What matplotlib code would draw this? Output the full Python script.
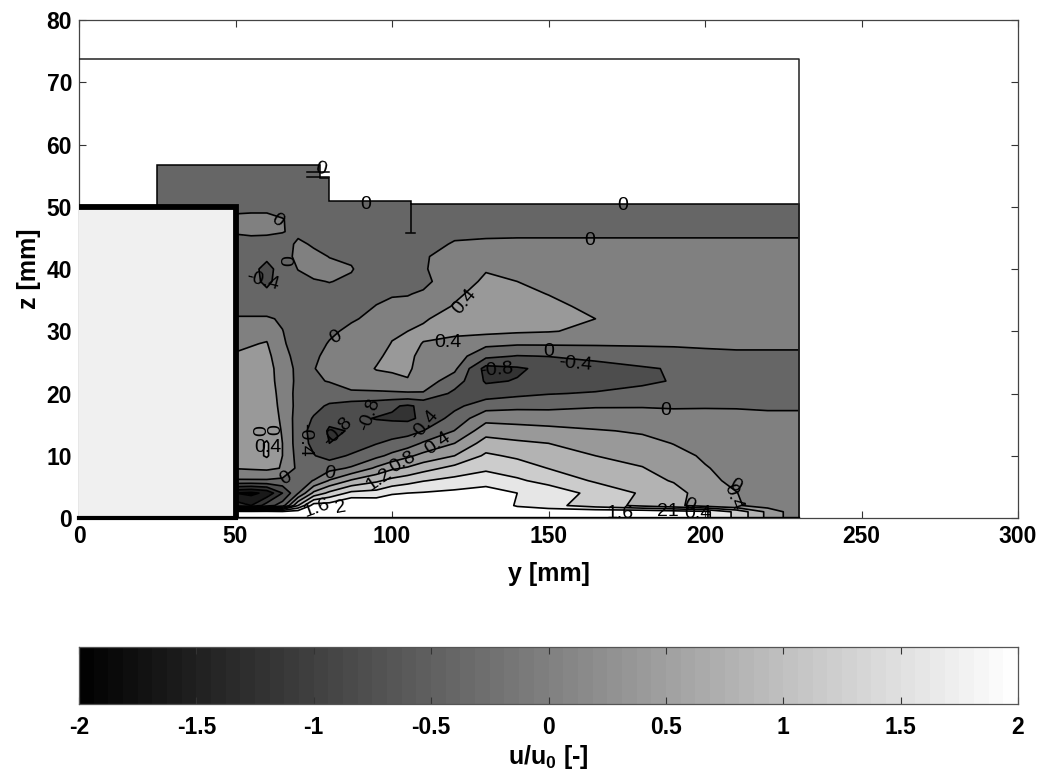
import numpy as np
import matplotlib
matplotlib.use("Agg")
import matplotlib.pyplot as plt
from matplotlib.patches import Polygon, Rectangle

plt.rcParams['font.family'] = ['Liberation Sans', 'DejaVu Sans']
plt.rcParams['font.weight'] = 'bold'
plt.rcParams['axes.unicode_minus'] = False
plt.rcParams['mathtext.fontset'] = 'custom'
plt.rcParams['mathtext.bf'] = 'Liberation Sans:bold'
plt.rcParams['mathtext.rm'] = 'Liberation Sans:bold'
plt.rcParams['mathtext.default'] = 'bf'

z_rows = [60, 50, 48, 46, 44, 42, 40, 38, 36, 34, 32, 30, 28, 26, 24, 22, 20, 18, 16, 14, 12, 10, 8, 6, 4, 2, 1, 0]
y_cols = [25, 50, 55, 60, 65, 70, 75, 80, 87, 95, 100, 105, 110, 120, 130, 140, 150, 165, 180, 190, 200, 210, 220, 230]

u_y025 = [-.2] * 28
u_y050 = [-.2,-.2,.15,.05,-.2,-.2,-.2,-.2,-.2,-.2,.05,.2,.3,.45,.55,.55,.55,.55,.55,.55,.55,.55,.42,-.05,-1.6,-1.0,2.2,2.2]
u_y055 = [-.2,-.2,.2,.1,-.2,-.2,-.25,-.25,-.2,-.2,.05,.22,.38,.47,.55,.55,.55,.55,.55,.55,.6,.6,.45,-.05,-1.7,-1.2,2.2,2.2]
u_y060 = [-.2,-.2,.2,.1,-.25,-.3,-.55,-.5,-.3,-.2,.05,.3,.42,.5,.55,.55,.55,.55,.55,.6,.85,.85,.48,-.05,-1.5,-.6,2.2,2.2]
u_y065 = [-.2,-.2,.02,.02,-.2,-.2,-.2,-.2,-.2,-.15,-.05,.01,.06,.15,.22,.25,.3,.33,.36,.38,.4,.4,.38,-.1,-.8,-.2,2.1,2.1]
u_y070 = [-.2,-.2,-.15,-.1,.08,.12,.01,-.1,-.15,-.2,-.2,-.2,-.2,-.15,-.1,-.1,-.15,-.15,-.2,-.2,-.2,-.15,-.1,-.1,-.02,1.2,2.2,2.2]
u_y075 = [-.2,-.2,-.2,-.15,-.05,.1,.12,-.03,-.15,-.2,-.2,-.15,-.1,-.05,-.01,-.05,-.15,-.3,-.43,-.55,-.5,-.38,-.2,.01,.9,2.2,2.3,2.3]
u_y080 = [-.2,-.2,-.2,-.15,-.08,-.01,.1,.01,-.1,-.2,-.13,-.05,.02,.08,.09,.02,-.2,-.45,-.7,-.85,-.8,-.55,-.13,.43,1.3,2.2,2.4,2.4]
u_y087 = [-.2,-.2,-.2,-.2,-.15,-.05,.02,-.05,-.2,-.12,-.03,.06,.12,.15,.18,.13,-.05,-.6,-.72,-.78,-.65,-.35,.05,.85,1.7,2.5,2.5,2.5]
u_y095 = [-.2,-.2,-.2,-.2,-.2,-.2,-.2,-.2,-.07,.01,.07,.14,.22,.33,.42,.25,-.07,-.65,-.82,-.6,-.42,-.1,.47,1.13,1.75,2.4,2.4,2.4]
u_y100 = [-.2,-.2,-.2,-.2,-.2,-.2,-.2,-.1,-.03,.08,.2,.33,.42,.5,.45,.3,-.06,-.75,-.85,-.6,-.3,.1,.73,1.32,1.95,2.4,2.4,2.4]
u_y105 = [-.2,-.2,-.2,-.2,-.2,-.2,-.2,-.13,-.02,.1,.25,.4,.47,.48,.45,.38,-.05,-.85,-.88,-.55,-.2,.32,.85,1.45,2.0,2.4,2.4,2.4]
u_y110 = [-.2,-.2,-.2,-.2,-.12,-.03,-.03,-.1,.05,.18,.37,.45,.39,.3,.27,.2,-.03,-.72,-.72,-.4,.05,.52,1.04,1.58,2.03,2.4,2.4,2.4]
u_y120 = [-.2,-.2,-.2,-.08,.03,.12,.18,.25,.33,.43,.52,.47,.3,.2,.08,-.2,-.5,-.5,-.25,.01,.4,.8,1.33,1.72,2.1,2.4,2.4,2.4]
u_y130 = [-.2,-.2,-.2,-.05,.04,.2,.38,.45,.55,.6,.6,.5,.1,-.3,-.95,-.85,-.6,-.17,.27,.63,.97,1.27,1.53,1.82,2.2,2.4,2.4,2.4]
u_y140 = [-.2,-.2,-.2,-.05,.05,.2,.3,.4,.5,.55,.55,.45,.05,-.42,-.85,-.78,-.5,-.1,.24,.57,.87,1.13,1.4,1.66,2.0,1.95,2.3,2.3]
u_y150 = [-.2,-.2,-.2,-.05,.05,.2,.28,.33,.39,.5,.52,.42,.05,-.39,-.7,-.72,-.42,-.1,.22,.51,.8,1.0,1.19,1.47,1.84,1.73,2.3,2.3]
u_y165 = [-.2,-.2,-.2,-.05,.05,.2,.2,.22,.25,.3,.4,.33,.05,-.3,-.55,-.58,-.37,-.03,.18,.43,.6,.8,.98,1.15,1.48,1.4,2.3,2.3]
u_y180 = [-.2,-.2,-.2,-.05,.05,.2,.2,.2,.2,.2,.2,.2,.05,-.2,-.44,-.46,-.3,-.03,.2,.36,.5,.66,.82,.98,1.15,1.1,2.3,2.3]
u_y190 = [-.2,-.2,-.2,-.05,.05,.2,.2,.2,.2,.2,.2,.2,.05,-.15,-.37,-.38,-.25,-.03,.1,.3,.39,.5,.6,.76,1.0,.9,2.2,2.2]
u_y200 = [-.2,-.2,-.2,-.05,.05,.2,.2,.2,.2,.2,.2,.2,.05,-.08,-.18,-.2,-.15,-.03,.12,.2,.3,.36,.42,.48,.55,.62,2.1,2.1]
u_y210 = [-.2,-.2,-.2,-.05,.05,.2,.2,.2,.2,.2,.2,.2,.05,-.05,-.15,-.2,-.15,-.03,.1,.15,.2,.25,.3,.33,.41,.45,1.5,1.5]
u_y220 = [-.2,-.2,-.2,-.05,.05,.2,.2,.2,.2,.2,.2,.2,.05,-.05,-.15,-.2,-.15,-.03,.05,.1,.1,.1,.1,.15,.2,.2,.7,.7]
u_y230 = [-.2,-.2,-.2,-.05,.05,.2,.2,.2,.2,.2,.2,.2,.05,-.05,-.15,-.2,-.15,-.03,.05,.1,.1,.1,.1,.1,.1,.1,.1,.1]

u_columns = [u_y025, u_y050, u_y055, u_y060, u_y065, u_y070, u_y075, u_y080, u_y087, u_y095,
             u_y100, u_y105, u_y110, u_y120, u_y130, u_y140, u_y150, u_y165, u_y180, u_y190,
             u_y200, u_y210, u_y220, u_y230]

contour_levels = [-2, -1.6, -1.2, -0.8, -0.4, 0, 0.4, 0.8, 1.2, 1.6, 2, 3]

# measurement domain outline
domain_y = [25, 25, 77, 77, 80, 80, 106, 106, 230, 230, 50, 50]
domain_z = [50, 56.7, 56.7, 54.6, 54.6, 50.9, 50.9, 50.5, 50.5, 0, 0, 50]
outer_y = [0, 230, 230]
outer_z = [73.7, 73.7, 0]
stub_y = [[73, 80], [73, 80], [106, 106], [104.5, 107.5]]
stub_z = [[55.6, 55.6], [54.8, 54.8], [50.5, 46], [45.8, 45.8]]

label_y = [77.3, 91.7, 173.8, 163, 63.3, 67.4, 58.8, 82, 123.3, 118, 150, 158.5, 133.5, 187.5, 82.7, 93,
           110.5, 114.7, 103.5, 96, 80, 66, 72, 58.5, 63, 60.5, 76, 83.7, 173, 188, 195, 209, 209.6, 197.8]
label_z = [56, 50.4, 50.2, 44.6, 47.8, 41.4, 38, 29, 34.7, 28.2, 26.7, 24.8, 23.7, 17.3, 13.8, 16.6,
           14.9, 12, 9, 6.1, 7.2, 6.4, 12.5, 14, 14.2, 11.4, 1.6, 1.6, 0.8, 1, 2, 3.4, 5.1, 0.8]
label_txt = ['0', '0', '0', '0', '0', '0', '-0.4', '0', '0.4', '0.4', '0', '-0.4', '-0.8', '0', '-0.8', '-0.8',
             '-0.4', '0.4', '0.8', '1.2', '0', '0', '-0.4', '0', '0', '0.4', '1.6', '2', '1.6', '21', '0', '0.4', '0', '0.4']
label_rot = [-15, 0, 0, 0, -35, 90, -15, 30, 50, 0, 0, -5, 5, 0, 45, 70,
             50, 35, 30, 35, -10, 30, -90, 90, 90, 0, 20, 10, 0, 0, -25, -70, -30, 0]

xticks = [0, 50, 100, 150, 200, 250, 300]
yticks = [0, 10, 20, 30, 40, 50, 60, 70, 80]
cb_ticks = [-2, -1.5, -1, -0.5, 0, 0.5, 1, 1.5, 2]
cb_labels = ['-2', '-1.5', '-1', '-0.5', '0', '0.5', '1', '1.5', '2']

W, H = 1042, 772
fig = plt.figure(figsize=(W / 100, H / 100), dpi=100)
ax = fig.add_axes([79 / W, 1 - 518 / H, (1018 - 79) / W, (518 - 20) / H])

Y, Z = np.array(y_cols), np.array(z_rows)[::-1]
U = np.array(u_columns).T[::-1]
face = [str(min(1, (l + 2) / 4)) for l in contour_levels[:-1]]
clip = Polygon(np.column_stack([domain_y, domain_z]), closed=True, facecolor='none', edgecolor='k', lw=1.1, zorder=3)
ax.add_patch(clip)
cf = ax.contourf(Y, Z, U, levels=contour_levels, colors=face, zorder=1)
cl = ax.contour(Y, Z, U, levels=contour_levels[:-1], colors='k', linewidths=1.2, zorder=2,
                linestyles='solid', negative_linestyles='solid')
cf.set_clip_path(clip)
cl.set_clip_path(clip)

ax.plot(outer_y, outer_z, color='#222222', lw=1.1, zorder=3)
for sy, sz in zip(stub_y, stub_z):
    ax.plot(sy, sz, color='k', lw=1.1, zorder=3)

for yy, zz, t, r in zip(label_y, label_z, label_txt, label_rot):
    ax.text(yy, zz, t, rotation=r, ha='center', va='center', fontsize=14, fontweight='normal',
            color='black', zorder=6, rotation_mode='anchor')

ax.add_patch(Rectangle((0, 0), 50, 50, facecolor='#f0f0f0', edgecolor='none', zorder=4))
ax.plot([0, 50, 50], [50, 50, 0], color='k', lw=4.2, solid_joinstyle='miter', zorder=5)
ax.plot([0, 50], [0, 0], color='k', lw=3, zorder=5, clip_on=False)
ax.plot([50, 230], [0.15, 0.15], color='k', lw=1.0, zorder=5)

ax.set_xlim(0, 300)
ax.set_ylim(0, 80)
ax.set_xticks(xticks)
ax.set_yticks(yticks)
ax.tick_params(direction='in', top=True, right=True, length=5, width=0.8, labelsize=16.5, pad=5, color='#333333')
for s in ax.spines.values():
    s.set_linewidth(0.9)
    s.set_color('#444444')
ax.set_xlabel('y [mm]', fontsize=18, fontweight='bold', labelpad=10)
ax.set_ylabel('z [mm]', fontsize=18, fontweight='bold', labelpad=4)

cax = fig.add_axes([79 / W, 1 - 704 / H, (1018 - 79) / W, (704 - 647) / H])
cb_edges = np.linspace(-2, 2, 65)
cb_vals = (cb_edges[:-1] + cb_edges[1:]) / 2
cax.pcolormesh(cb_edges, [0, 1], cb_vals[None, :], cmap='gray', vmin=-2, vmax=2)
cax.set_yticks([])
cax.set_xticks(cb_ticks)
cax.set_xticklabels(cb_labels)
cax.tick_params(direction='in', top=True, length=5, width=0.8, labelsize=16.5, pad=9, color='#333333')
for s in cax.spines.values():
    s.set_linewidth(0.9)
    s.set_color('#555555')
fig.text(548 / W, 1 - 757 / H, 'u/u$_0$ [-]', fontsize=18, fontweight='bold', ha='center', va='center')

fig.savefig('out.png', dpi=100)
